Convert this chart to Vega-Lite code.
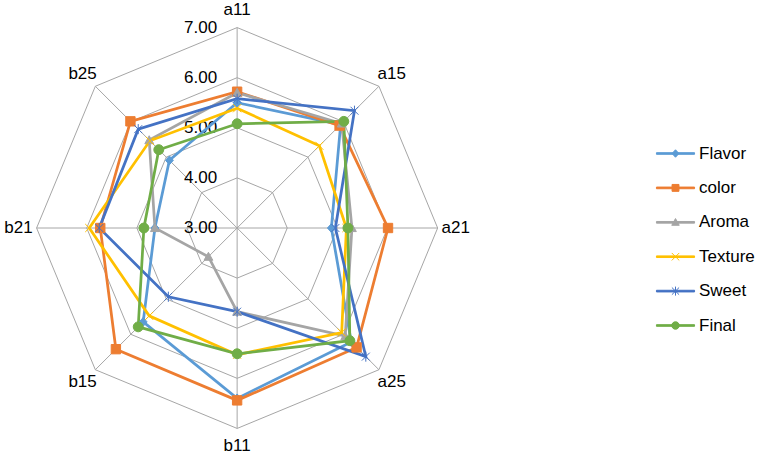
{
  "$schema": "https://vega.github.io/schema/vega-lite/v6.json",
  "width": 757,
  "height": 456,
  "autosize": "none",
  "padding": 0,
  "background": "white",
  "config": {"view": {"stroke": null}, "font": "Liberation Sans"},
  "datasets": {
    "scores": [
      {"attribute": "a11", "idx": 0, "series": "Flavor", "value": 5.50},
      {"attribute": "a15", "idx": 1, "series": "Flavor", "value": 5.92},
      {"attribute": "a21", "idx": 2, "series": "Flavor", "value": 4.88},
      {"attribute": "a25", "idx": 3, "series": "Flavor", "value": 6.22},
      {"attribute": "b11", "idx": 4, "series": "Flavor", "value": 6.40},
      {"attribute": "b15", "idx": 5, "series": "Flavor", "value": 5.65},
      {"attribute": "b21", "idx": 6, "series": "Flavor", "value": 4.64},
      {"attribute": "b25", "idx": 7, "series": "Flavor", "value": 4.91},
      {"attribute": "a11", "idx": 0, "series": "color", "value": 5.72},
      {"attribute": "a15", "idx": 1, "series": "color", "value": 5.89},
      {"attribute": "a21", "idx": 2, "series": "color", "value": 6.01},
      {"attribute": "a25", "idx": 3, "series": "color", "value": 6.37},
      {"attribute": "b11", "idx": 4, "series": "color", "value": 6.44},
      {"attribute": "b15", "idx": 5, "series": "color", "value": 6.42},
      {"attribute": "b21", "idx": 6, "series": "color", "value": 5.73},
      {"attribute": "b25", "idx": 7, "series": "color", "value": 6.01},
      {"attribute": "a11", "idx": 0, "series": "Aroma", "value": 5.70},
      {"attribute": "a15", "idx": 1, "series": "Aroma", "value": 5.95},
      {"attribute": "a21", "idx": 2, "series": "Aroma", "value": 5.29},
      {"attribute": "a25", "idx": 3, "series": "Aroma", "value": 6.05},
      {"attribute": "b11", "idx": 4, "series": "Aroma", "value": 4.67},
      {"attribute": "b15", "idx": 5, "series": "Aroma", "value": 3.81},
      {"attribute": "b21", "idx": 6, "series": "Aroma", "value": 4.64},
      {"attribute": "b25", "idx": 7, "series": "Aroma", "value": 5.48},
      {"attribute": "a11", "idx": 0, "series": "Texture", "value": 5.39},
      {"attribute": "a15", "idx": 1, "series": "Texture", "value": 5.32},
      {"attribute": "a21", "idx": 2, "series": "Texture", "value": 5.18},
      {"attribute": "a25", "idx": 3, "series": "Texture", "value": 5.95},
      {"attribute": "b11", "idx": 4, "series": "Texture", "value": 5.53},
      {"attribute": "b15", "idx": 5, "series": "Texture", "value": 5.48},
      {"attribute": "b21", "idx": 6, "series": "Texture", "value": 5.95},
      {"attribute": "b25", "idx": 7, "series": "Texture", "value": 5.46},
      {"attribute": "a11", "idx": 0, "series": "Sweet", "value": 5.58},
      {"attribute": "a15", "idx": 1, "series": "Sweet", "value": 6.31},
      {"attribute": "a21", "idx": 2, "series": "Sweet", "value": 4.96},
      {"attribute": "a25", "idx": 3, "series": "Sweet", "value": 6.63},
      {"attribute": "b11", "idx": 4, "series": "Sweet", "value": 4.67},
      {"attribute": "b15", "idx": 5, "series": "Sweet", "value": 4.94},
      {"attribute": "b21", "idx": 6, "series": "Sweet", "value": 5.75},
      {"attribute": "b25", "idx": 7, "series": "Sweet", "value": 5.79},
      {"attribute": "a11", "idx": 0, "series": "Final", "value": 5.08},
      {"attribute": "a15", "idx": 1, "series": "Final", "value": 6.01},
      {"attribute": "a21", "idx": 2, "series": "Final", "value": 5.21},
      {"attribute": "a25", "idx": 3, "series": "Final", "value": 6.18},
      {"attribute": "b11", "idx": 4, "series": "Final", "value": 5.51},
      {"attribute": "b15", "idx": 5, "series": "Final", "value": 5.79},
      {"attribute": "b21", "idx": 6, "series": "Final", "value": 4.86},
      {"attribute": "b25", "idx": 7, "series": "Final", "value": 5.21}
    ],
    "grid": [
      {"level": 4, "idx": 0}, {"level": 4, "idx": 1}, {"level": 4, "idx": 2}, {"level": 4, "idx": 3},
      {"level": 4, "idx": 4}, {"level": 4, "idx": 5}, {"level": 4, "idx": 6}, {"level": 4, "idx": 7},
      {"level": 5, "idx": 0}, {"level": 5, "idx": 1}, {"level": 5, "idx": 2}, {"level": 5, "idx": 3},
      {"level": 5, "idx": 4}, {"level": 5, "idx": 5}, {"level": 5, "idx": 6}, {"level": 5, "idx": 7},
      {"level": 6, "idx": 0}, {"level": 6, "idx": 1}, {"level": 6, "idx": 2}, {"level": 6, "idx": 3},
      {"level": 6, "idx": 4}, {"level": 6, "idx": 5}, {"level": 6, "idx": 6}, {"level": 6, "idx": 7},
      {"level": 7, "idx": 0}, {"level": 7, "idx": 1}, {"level": 7, "idx": 2}, {"level": 7, "idx": 3},
      {"level": 7, "idx": 4}, {"level": 7, "idx": 5}, {"level": 7, "idx": 6}, {"level": 7, "idx": 7}
    ],
    "axesList": [
      {"attribute": "a11", "idx": 0}, {"attribute": "a15", "idx": 1},
      {"attribute": "a21", "idx": 2}, {"attribute": "a25", "idx": 3},
      {"attribute": "b11", "idx": 4}, {"attribute": "b15", "idx": 5},
      {"attribute": "b21", "idx": 6}, {"attribute": "b25", "idx": 7}
    ],
    "ticks": [
      {"label": "3.00", "level": 3}, {"label": "4.00", "level": 4},
      {"label": "5.00", "level": 5}, {"label": "6.00", "level": 6},
      {"label": "7.00", "level": 7}
    ]
  },
  "resolve": {"scale": {"shape": "independent", "fill": "independent", "stroke": "independent"}},
  "layer": [
    {
      "data": {"name": "grid"},
      "transform": [
        {"calculate": "(datum.level-3)*sin(datum.idx*PI/4)", "as": "x"},
        {"calculate": "(datum.level-3)*cos(datum.idx*PI/4)", "as": "y"}
      ],
      "mark": {"type": "line", "interpolate": "linear-closed", "color": "#a6a6a6", "strokeWidth": 1},
      "encoding": {
        "x": {"field": "x", "type": "quantitative", "scale": {"domain": [-4.73, 10.37], "nice": false, "zero": false}, "axis": null},
        "y": {"field": "y", "type": "quantitative", "scale": {"domain": [-4.55, 4.55], "nice": false, "zero": false}, "axis": null},
        "detail": {"field": "level", "type": "nominal"},
        "order": {"field": "idx", "type": "quantitative"}
      }
    },
    {
      "data": {"name": "axesList"},
      "transform": [
        {"calculate": "4*sin(datum.idx*PI/4)", "as": "x"},
        {"calculate": "4*cos(datum.idx*PI/4)", "as": "y"}
      ],
      "mark": {"type": "rule", "color": "#a6a6a6", "strokeWidth": 1},
      "encoding": {
        "x": {"field": "x", "type": "quantitative", "scale": {"domain": [-4.73, 10.37], "nice": false, "zero": false}, "axis": null},
        "y": {"field": "y", "type": "quantitative", "scale": {"domain": [-4.55, 4.55], "nice": false, "zero": false}, "axis": null},
        "x2": {"datum": 0},
        "y2": {"datum": 0}
      }
    },
    {
      "data": {"name": "ticks"},
      "transform": [
        {"calculate": "datum.level-3", "as": "y"},
        {"calculate": "0", "as": "x"}
      ],
      "mark": {"type": "text", "align": "right", "baseline": "middle", "dx": -20, "fontSize": 17, "color": "#000000"},
      "encoding": {
        "x": {"field": "x", "type": "quantitative", "scale": {"domain": [-4.73, 10.37], "nice": false, "zero": false}, "axis": null},
        "y": {"field": "y", "type": "quantitative", "scale": {"domain": [-4.55, 4.55], "nice": false, "zero": false}, "axis": null},
        "text": {"field": "label"}
      }
    },
    {
      "data": {"name": "axesList"},
      "transform": [
        {"calculate": "4.36*sin(datum.idx*PI/4)", "as": "x"},
        {"calculate": "4.36*cos(datum.idx*PI/4)", "as": "y"}
      ],
      "mark": {"type": "text", "align": "center", "baseline": "middle", "fontSize": 17, "color": "#000000"},
      "encoding": {
        "x": {"field": "x", "type": "quantitative", "scale": {"domain": [-4.73, 10.37], "nice": false, "zero": false}, "axis": null},
        "y": {"field": "y", "type": "quantitative", "scale": {"domain": [-4.55, 4.55], "nice": false, "zero": false}, "axis": null},
        "text": {"field": "attribute"}
      }
    },
    {
      "data": {"name": "scores"},
      "transform": [
        {"calculate": "(datum.value-3)*sin(datum.idx*PI/4)", "as": "x"},
        {"calculate": "(datum.value-3)*cos(datum.idx*PI/4)", "as": "y"}
      ],
      "mark": {"type": "line", "interpolate": "linear-closed", "strokeWidth": 2.75},
      "encoding": {
        "x": {"field": "x", "type": "quantitative", "scale": {"domain": [-4.73, 10.37], "nice": false, "zero": false}, "axis": null},
        "y": {"field": "y", "type": "quantitative", "scale": {"domain": [-4.55, 4.55], "nice": false, "zero": false}, "axis": null},
        "color": {"field": "series", "type": "nominal", "scale": {"domain": ["Flavor", "color", "Aroma", "Texture", "Sweet", "Final"], "range": ["#5B9BD5", "#ED7D31", "#A5A5A5", "#FFC000", "#4472C4", "#70AD47"]}, "legend": null},
        "order": {"field": "idx", "type": "quantitative"}
      }
    },
    {
      "data": {"name": "scores"},
      "transform": [
        {"calculate": "(datum.value-3)*sin(datum.idx*PI/4)", "as": "x"},
        {"calculate": "(datum.value-3)*cos(datum.idx*PI/4)", "as": "y"}
      ],
      "mark": {"type": "point", "filled": true, "size": 121, "strokeWidth": 1, "opacity": 1},
      "encoding": {
        "x": {"field": "x", "type": "quantitative", "scale": {"domain": [-4.73, 10.37], "nice": false, "zero": false}, "axis": null},
        "y": {"field": "y", "type": "quantitative", "scale": {"domain": [-4.55, 4.55], "nice": false, "zero": false}, "axis": null},
        "fill": {"field": "series", "type": "nominal", "scale": {"domain": ["Flavor", "color", "Aroma", "Texture", "Sweet", "Final"], "range": ["#5B9BD5", "#ED7D31", "#A5A5A5", "#FFC000", "#4472C4", "#70AD47"]}, "legend": null},
        "stroke": {"field": "series", "type": "nominal", "scale": {"domain": ["Flavor", "color", "Aroma", "Texture", "Sweet", "Final"], "range": ["#5B9BD5", "#ED7D31", "#A5A5A5", "#FFC000", "#4472C4", "#70AD47"]}, "legend": null},
        "shape": {"field": "series", "type": "nominal", "scale": {"domain": ["Flavor", "color", "Aroma", "Texture", "Sweet", "Final"], "range": [
          "M0,-0.8L0.72,0L0,0.8L-0.72,0Z",
          "M-0.85,-0.85H0.85V0.85H-0.85Z",
          "M0,-0.8L0.8,0.65L-0.8,0.65Z",
          "M-0.73,-0.73L0.73,0.73M-0.73,0.73L0.73,-0.73",
          "M-0.72,-0.72L0.72,0.72M-0.72,0.72L0.72,-0.72M0,-0.92V0.92",
          "M-0.9,0A0.9,0.9,0,1,1,0.9,0A0.9,0.9,0,1,1,-0.9,0Z"
        ]}, "legend": null}
      }
    },
    {
      "data": {"name": "scores"},
      "transform": [
        {"calculate": "(datum.value-3)*sin(datum.idx*PI/4)", "as": "x"},
        {"calculate": "(datum.value-3)*cos(datum.idx*PI/4)", "as": "y"}
      ],
      "mark": {"type": "point", "filled": true, "opacity": 0, "strokeWidth": 1},
      "encoding": {
        "x": {"field": "x", "type": "quantitative", "scale": {"domain": [-4.73, 10.37], "nice": false, "zero": false}, "axis": null},
        "y": {"field": "y", "type": "quantitative", "scale": {"domain": [-4.55, 4.55], "nice": false, "zero": false}, "axis": null},
        "fill": {"field": "series", "type": "nominal", "scale": {"domain": ["Flavor", "color", "Aroma", "Texture", "Sweet", "Final"], "range": ["#5B9BD5", "#ED7D31", "#A5A5A5", "#FFC000", "#4472C4", "#70AD47"]},
          "legend": {"title": null, "orient": "none", "legendX": 660, "legendY": 138, "padding": 0, "symbolSize": 900, "symbolOpacity": 1, "symbolStrokeWidth": 1, "labelFontSize": 17, "labelFont": "Liberation Sans", "labelColor": "#000000", "labelOffset": 8, "rowPadding": 10.4, "labelLimit": 200}},
        "stroke": {"field": "series", "type": "nominal", "scale": {"domain": ["Flavor", "color", "Aroma", "Texture", "Sweet", "Final"], "range": ["#5B9BD5", "#ED7D31", "#A5A5A5", "#FFC000", "#4472C4", "#70AD47"]},
          "legend": {"title": null, "orient": "none", "legendX": 660, "legendY": 138, "padding": 0, "symbolSize": 900, "symbolOpacity": 1, "symbolStrokeWidth": 1, "labelFontSize": 17, "labelFont": "Liberation Sans", "labelColor": "#000000", "labelOffset": 8, "rowPadding": 10.4, "labelLimit": 200}},
        "shape": {"field": "series", "type": "nominal", "scale": {"domain": ["Flavor", "color", "Aroma", "Texture", "Sweet", "Final"], "range": [
          "M-1.27,-0.055H1.27V0.055H-1.27ZM0,-0.25L0.23,0L0,0.25L-0.23,0Z",
          "M-1.27,-0.055H1.27V0.055H-1.27ZM-0.23,-0.23H0.23V0.23H-0.23Z",
          "M-1.27,-0.055H1.27V0.055H-1.27ZM0,-0.25L0.25,0.2L-0.25,0.2Z",
          "M-1.27,-0.055H1.27V0.055H-1.27ZM-0.25,-0.25L0.25,0.25M-0.25,0.25L0.25,-0.25",
          "M-1.27,-0.055H1.27V0.055H-1.27ZM-0.24,-0.24L0.24,0.24M-0.24,0.24L0.24,-0.24M0,-0.3V0.3",
          "M-1.27,-0.055H1.27V0.055H-1.27ZM-0.25,0A0.25,0.25,0,1,1,0.25,0A0.25,0.25,0,1,1,-0.25,0Z"
        ]},
          "legend": {"title": null, "orient": "none", "legendX": 660, "legendY": 138, "padding": 0, "symbolSize": 900, "symbolOpacity": 1, "symbolStrokeWidth": 1, "labelFontSize": 17, "labelFont": "Liberation Sans", "labelColor": "#000000", "labelOffset": 8, "rowPadding": 10.4, "labelLimit": 200}}
      }
    }
  ]
}
